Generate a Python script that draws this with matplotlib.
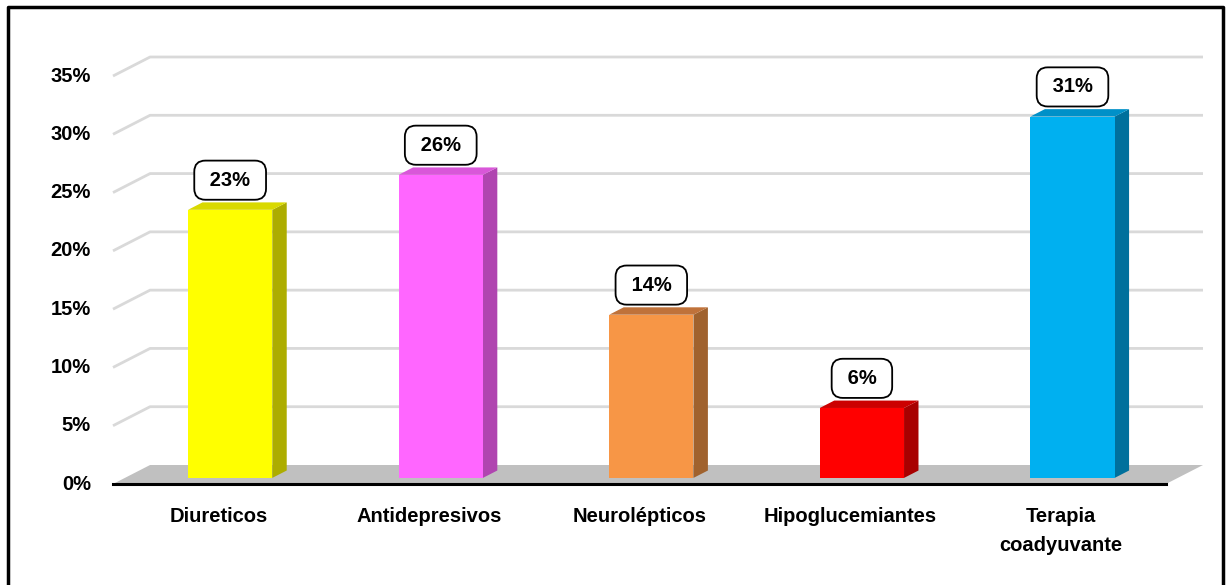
import numpy as np
import matplotlib
matplotlib.use('Agg')
import matplotlib.pyplot as plt
from matplotlib.patches import Polygon, Rectangle
from matplotlib.lines import Line2D

# ---- data ----
categories = ['Diureticos', 'Antidepresivos', 'Neurolépticos', 'Hipoglucemiantes', 'Terapia\ncoadyuvante']
values = [23, 26, 14, 6, 31]
labels = ['23%', '26%', '14%', '6%', '31%']
yticks = [0, 5, 10, 15, 20, 25, 30, 35]
ytick_labels = ['0%', '5%', '10%', '15%', '20%', '25%', '30%', '35%']

front_colors = ['#ffff00', '#ff66ff', '#f79646', '#ff0000', '#00b0f0']
top_colors = ['#d9d900', '#d957d9', '#c0723a', '#cc0000', '#0090c8']
side_colors = ['#adad00', '#b045b0', '#a0622e', '#a80000', '#00709c']

# ---- 3d look (depth of the floor in data units) ----
D = 0.176    # x shift front -> back
H = 1.63     # y shift front -> back
f_front, f_back = 0.32, 0.71
bar_w = 0.4
FONT = ['Liberation Sans', 'DejaVu Sans']
FS = 14.5

fig = plt.figure(figsize=(12.31, 5.85), dpi=100)
ax = fig.add_axes([113 / 1231, (585 - 484) / 585, (1203 - 113) / 1231, (484 - 57) / 585])
n = len(categories)
ax.set_xlim(-0.5, n - 0.5 + D)
ax.set_ylim(0, 35 + H)
ax.axis('off')

# floor
floor = Polygon([(-0.5, 0), (n - 0.5, 0), (n - 0.5 + D, H), (-0.5 + D, H)],
                closed=True, facecolor='#c0c0c0', edgecolor='none', zorder=1, clip_on=False)
ax.add_patch(floor)

# gridlines (slanted side + back wall)
for v in yticks[1:]:
    ax.plot([-0.5, -0.5 + D, n - 0.5 + D], [v, v + H, v + H],
            color='#d9d9d9', lw=2, zorder=0.5, clip_on=False, solid_capstyle='butt')

# front axis line
ax.plot([-0.5, n - 0.5], [0, 0], color='black', lw=2.2, zorder=5, clip_on=False)

# bars
x = np.arange(n)
for i, v in enumerate(values):
    x0 = x[i] - bar_w / 2 + f_front * D
    y0 = f_front * H
    ddx = (f_back - f_front) * D
    ddy = (f_back - f_front) * H
    side = Polygon([(x0 + bar_w, y0), (x0 + bar_w + ddx, y0 + ddy),
                    (x0 + bar_w + ddx, y0 + ddy + v), (x0 + bar_w, y0 + v)],
                   closed=True, facecolor=side_colors[i], edgecolor='none', zorder=3)
    top = Polygon([(x0, y0 + v), (x0 + bar_w, y0 + v),
                   (x0 + bar_w + ddx, y0 + v + ddy), (x0 + ddx, y0 + v + ddy)],
                  closed=True, facecolor=top_colors[i], edgecolor='none', zorder=3)
    front = Rectangle((x0, y0), bar_w, v, facecolor=front_colors[i], edgecolor='none', zorder=4)
    ax.add_patch(side)
    ax.add_patch(top)
    ax.add_patch(front)

    # value label box
    ax.annotate(' ' + labels[i] + ' ', xy=(x0 + bar_w / 2, y0 + v + ddy), xytext=(0, 16),
                textcoords='offset points', ha='center', va='center',
                fontsize=FS, fontweight='bold', family=FONT, zorder=6,
                bbox=dict(boxstyle='round,pad=0.5,rounding_size=0.55', facecolor='white',
                          edgecolor='black', lw=1.3))

# y tick labels (front plane)
for v, t in zip(yticks, ytick_labels):
    ax.text(-0.5 - 0.105, v, t, ha='right', va='center', fontsize=FS,
            fontweight='bold', family=FONT, clip_on=False)

# category labels
for i, c in enumerate(categories):
    ax.text(x[i], -1.95, c, ha='center', va='top', fontsize=FS, fontweight='bold',
            family=FONT, linespacing=1.7, clip_on=False)

# chart border (left, top, right)
fig.add_artist(Line2D([8 / 1231, 8 / 1231, 1223 / 1231, 1223 / 1231],
                      [0, 1 - 7 / 585, 1 - 7 / 585, 0],
                      transform=fig.transFigure, color='black', lw=2.5))

fig.savefig('out.png', dpi=100, facecolor='white')
